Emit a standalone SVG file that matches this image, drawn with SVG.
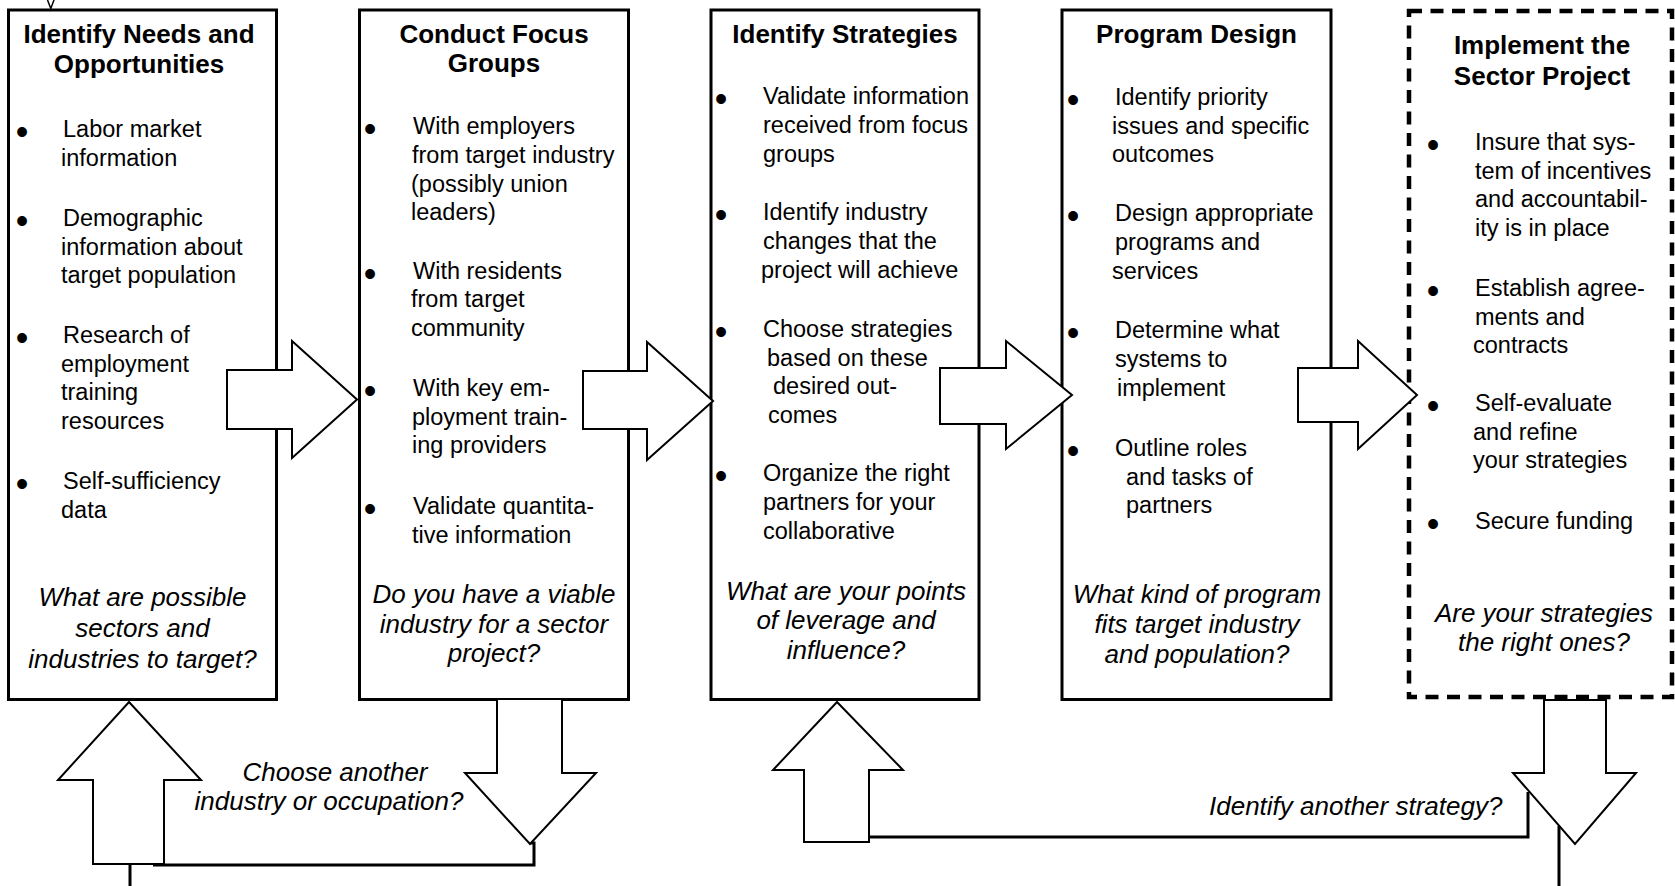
<svg xmlns="http://www.w3.org/2000/svg" width="1675" height="886" viewBox="0 0 1675 886">
<style>
.box{fill:#fff;stroke:#000;stroke-width:3}
.dbox{fill:#fff;stroke:#000;stroke-width:4.5;stroke-dasharray:13 8.5}
.arrow{fill:#fff;stroke:#000;stroke-width:2;stroke-linejoin:miter}
.line{fill:none;stroke:#000;stroke-width:3}
.thin{fill:none;stroke:#000;stroke-width:1.5}
text{font-family:"Liberation Sans",Arial,sans-serif;fill:#000}
.t{font-size:23.5px}
.b{font-size:36px;text-anchor:middle}
.h{font-size:26px;font-weight:bold;text-anchor:middle}
.q{font-size:26px;font-style:italic;text-anchor:middle}
.lbl{font-size:26px;font-style:italic}
</style>

<g id="box1">
<rect class="box" x="8.5" y="10" width="268" height="689.5"/>
<text class="h"><tspan x="139" y="43">Identify Needs and</tspan><tspan x="139" y="73">Opportunities</tspan></text>
<text class="b" x="22" y="144">•</text>
<text class="t"><tspan x="63" y="137">Labor market</tspan><tspan x="61" y="166">information</tspan></text>
<text class="b" x="22" y="233">•</text>
<text class="t"><tspan x="63" y="226">Demographic</tspan><tspan x="61" y="255">information about</tspan><tspan x="61" y="283">target population</tspan></text>
<text class="b" x="22" y="350">•</text>
<text class="t"><tspan x="63" y="343">Research of</tspan><tspan x="61" y="372">employment</tspan><tspan x="61" y="400">training</tspan><tspan x="61" y="429">resources</tspan></text>
<text class="b" x="22" y="496">•</text>
<text class="t"><tspan x="63" y="489">Self-sufficiency</tspan><tspan x="61" y="518">data</tspan></text>
<text class="q"><tspan x="142.5" y="606">What are possible</tspan><tspan x="142.5" y="637">sectors and</tspan><tspan x="142.5" y="668">industries to target?</tspan></text>
</g>

<g id="box2">
<rect class="box" x="359.5" y="10" width="269" height="689.5"/>
<text class="h"><tspan x="494" y="43">Conduct Focus</tspan><tspan x="494" y="72">Groups</tspan></text>
<text class="b" x="370" y="141">•</text>
<text class="t"><tspan x="413" y="134">With employers</tspan><tspan x="412" y="163">from target industry</tspan><tspan x="411" y="192">(possibly union</tspan><tspan x="411" y="220">leaders)</tspan></text>
<text class="b" x="370" y="286">•</text>
<text class="t"><tspan x="413" y="279">With residents</tspan><tspan x="411" y="307">from target</tspan><tspan x="411" y="336">community</tspan></text>
<text class="b" x="370" y="403">•</text>
<text class="t"><tspan x="413" y="396">With key em-</tspan><tspan x="412" y="425">ployment train-</tspan><tspan x="412" y="453">ing providers</tspan></text>
<text class="b" x="370" y="521">•</text>
<text class="t"><tspan x="413" y="514">Validate quantita-</tspan><tspan x="412" y="543">tive information</tspan></text>
<text class="q"><tspan x="494" y="603">Do you have a viable</tspan><tspan x="494" y="633">industry for a sector</tspan><tspan x="494" y="662">project?</tspan></text>
</g>

<g id="box3">
<rect class="box" x="711" y="10" width="268" height="689.5"/>
<text class="h" x="845" y="43">Identify Strategies</text>
<text class="b" x="721" y="111">•</text>
<text class="t"><tspan x="763" y="104">Validate information</tspan><tspan x="763" y="133">received from focus</tspan><tspan x="763" y="162">groups</tspan></text>
<text class="b" x="721" y="227">•</text>
<text class="t"><tspan x="763" y="220">Identify industry</tspan><tspan x="763" y="249">changes that the</tspan><tspan x="761" y="278">project will achieve</tspan></text>
<text class="b" x="721" y="344">•</text>
<text class="t"><tspan x="763" y="337">Choose strategies</tspan><tspan x="767" y="366">based on these</tspan><tspan x="773" y="394">desired out-</tspan><tspan x="768" y="423">comes</tspan></text>
<text class="b" x="721" y="488">•</text>
<text class="t"><tspan x="763" y="481">Organize the right</tspan><tspan x="763" y="510">partners for your</tspan><tspan x="763" y="539">collaborative</tspan></text>
<text class="q"><tspan x="846" y="600">What are your points</tspan><tspan x="846" y="629">of leverage and</tspan><tspan x="846" y="659">influence?</tspan></text>
</g>

<g id="box4">
<rect class="box" x="1062" y="10" width="269" height="689.5"/>
<text class="h" x="1196.5" y="43">Program Design</text>
<text class="b" x="1073" y="112">•</text>
<text class="t"><tspan x="1115" y="105">Identify priority</tspan><tspan x="1112" y="134">issues and specific</tspan><tspan x="1112" y="162">outcomes</tspan></text>
<text class="b" x="1073" y="228">•</text>
<text class="t"><tspan x="1115" y="221">Design appropriate</tspan><tspan x="1115" y="250">programs and</tspan><tspan x="1112" y="279">services</tspan></text>
<text class="b" x="1073" y="345">•</text>
<text class="t"><tspan x="1115" y="338">Determine what</tspan><tspan x="1115" y="367">systems to</tspan><tspan x="1117" y="396">implement</tspan></text>
<text class="b" x="1073" y="463">•</text>
<text class="t"><tspan x="1115" y="456">Outline roles</tspan><tspan x="1126" y="485">and tasks of</tspan><tspan x="1126" y="513">partners</tspan></text>
<text class="q"><tspan x="1197" y="603">What kind of program</tspan><tspan x="1197" y="633">fits target industry</tspan><tspan x="1197" y="663">and population?</tspan></text>
</g>

<g id="box5">
<rect class="dbox" x="1409" y="11" width="263" height="686"/>
<text class="h"><tspan x="1542" y="54">Implement the</tspan><tspan x="1542" y="85">Sector Project</tspan></text>
<text class="b" x="1433" y="157">•</text>
<text class="t"><tspan x="1475" y="150">Insure that sys-</tspan><tspan x="1475" y="179">tem of incentives</tspan><tspan x="1475" y="207">and accountabil-</tspan><tspan x="1475" y="236">ity is in place</tspan></text>
<text class="b" x="1433" y="303">•</text>
<text class="t"><tspan x="1475" y="296">Establish agree-</tspan><tspan x="1475" y="325">ments and</tspan><tspan x="1473" y="353">contracts</tspan></text>
<text class="b" x="1433" y="418">•</text>
<text class="t"><tspan x="1475" y="411">Self-evaluate</tspan><tspan x="1473" y="440">and refine</tspan><tspan x="1473" y="468">your strategies</tspan></text>
<text class="b" x="1433" y="536">•</text>
<text class="t"><tspan x="1475" y="529">Secure funding</tspan></text>
<text class="q"><tspan x="1544" y="622">Are your strategies</tspan><tspan x="1544" y="651">the right ones?</tspan></text>
</g>

<g id="connectors">
<path class="thin" d="M47.5,0 L50.8,8.5 L54,0"/>
<polygon class="arrow" points="227,370 292,370 292,341 357,399.5 292,458 292,429 227,429"/>
<polygon class="arrow" points="583,371 647,371 647,342 713,401 647,460 647,429 583,429"/>
<polygon class="arrow" points="940,368 1006,368 1006,341 1072,395 1006,449 1006,424 940,424"/>
<polygon class="arrow" points="1298,368 1358,368 1358,341 1417,395 1358,449 1358,422 1298,422"/>
<polygon class="arrow" points="129,702 201,780 164,780 164,864 93,864 93,780 58,780"/>
<polygon class="arrow" points="497,699 562,699 562,773 596,773 530,844 465,773 497,773"/>
<polygon class="arrow" points="837,702 903,770 869,770 869,842 804,842 804,770 773,770"/>
<polygon class="arrow" points="1544,700 1606,700 1606,773 1636,773 1575,844 1513,773 1544,773"/>
<polyline class="line" points="531,843 534,843 534,865 153,865"/>
<line class="line" x1="130" y1="864" x2="130" y2="886"/>
<polyline class="line" points="869,837 1528,837 1528,792"/>
<line class="line" x1="1559" y1="826" x2="1559" y2="886"/>
</g>

<g id="connector-labels">
<text class="lbl" text-anchor="middle"><tspan x="335" y="781">Choose another</tspan><tspan x="329" y="810">industry or occupation?</tspan></text>
<text class="lbl" x="1209" y="815">Identify another strategy?</text>
</g>
</svg>
